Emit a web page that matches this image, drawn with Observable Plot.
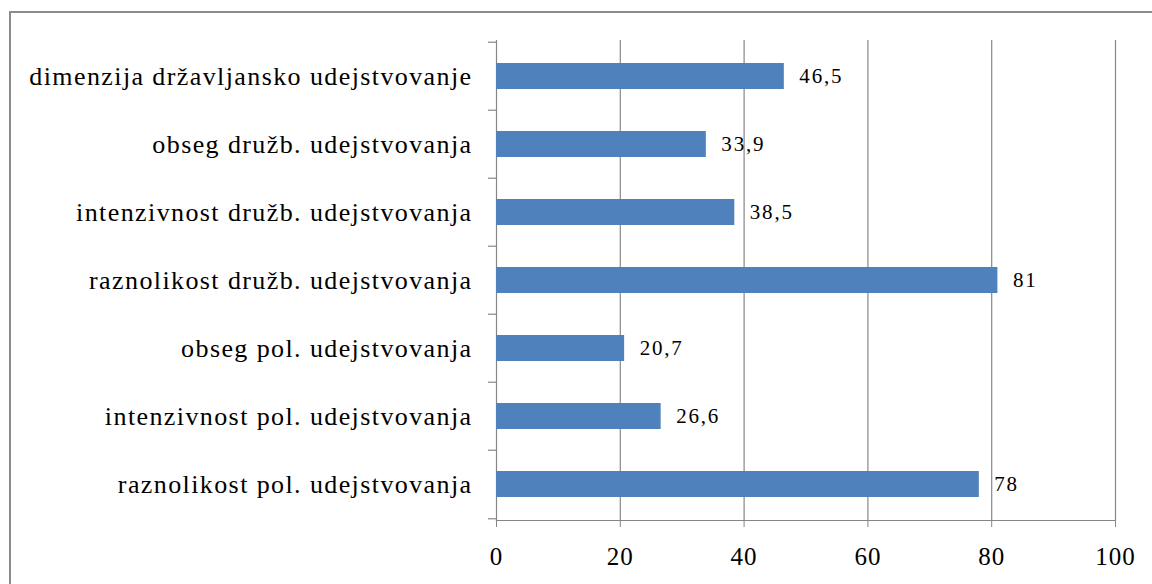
<!DOCTYPE html>
<html>
<head>
<meta charset="utf-8">
<script src="https://cdn.jsdelivr.net/npm/d3@7"></script>
<script src="https://cdn.jsdelivr.net/npm/@observablehq/plot@0.6"></script>
<style>
  html, body { margin: 0; padding: 0; background: #fff; overflow: hidden; }
  #wrap { position: relative; width: 1152px; height: 584px; }
  #border { position: absolute; left: 9px; top: 11px; width: 1300px; height: 800px; border: 2px solid #8c8c8c; box-sizing: border-box; }
  #chart { position: absolute; left: 0; top: 0; }
  .ylab text { letter-spacing: 1.4px; }
  .vlab text { letter-spacing: 1.8px; }
  .xlab text { letter-spacing: 1px; }
</style>
</head>
<body>
<div id="wrap">
  <div id="border"></div>
  <div id="chart"></div>
</div>
<script>
const categories = [
  "dimenzija državljansko udejstvovanje",
  "obseg družb. udejstvovanja",
  "intenzivnost družb. udejstvovanja",
  "raznolikost družb. udejstvovanja",
  "obseg pol. udejstvovanja",
  "intenzivnost pol. udejstvovanja",
  "raznolikost pol. udejstvovanja"
];
const values = [46.5, 33.9, 38.5, 81, 20.7, 26.6, 78];
const xTicks = [0, 20, 40, 60, 80, 100];

const data = categories.map((c, i) => ({cat: c, value: values[i]}));
const fmt = v => String(v).replace(".", ",");

const serif = "Liberation Serif, Times New Roman, serif";
const step = (584 - 40 - 64) / categories.length;
const tickLen = 8 / ((1152 - 496 - 37) / 100);

const chart = Plot.plot({
  width: 1152,
  height: 584,
  marginLeft: 496,
  marginRight: 37,
  marginTop: 40,
  marginBottom: 64,
  style: {background: "transparent", fontFamily: serif, color: "#000"},
  x: {domain: [0, 100], ticks: xTicks},
  y: {domain: categories, paddingInner: 0.62, paddingOuter: 0.31},
  marks: [
    Plot.gridX(xTicks.filter(d => d > 0), {stroke: "#868686", strokeOpacity: 1, strokeWidth: 1.2}),
    Plot.frame({anchor: "bottom", stroke: "#868686", strokeWidth: 1.2}),
    Plot.frame({anchor: "left", stroke: "#868686", strokeWidth: 1.2}),
    Plot.barX(data, {x: "value", y: "cat", fill: "#4F81BD"}),
    Plot.text(data, {x: "value", y: "cat", text: d => fmt(d.value), textAnchor: "start", dx: 15, fontSize: 21, fill: "#000", fontFamily: serif, className: "vlab"}),
    Plot.axisX({ticks: xTicks, tickSize: 7, tickPadding: 20, fontSize: 25, label: null, stroke: "#868686", fill: "#000", fontFamily: serif, className: "xlab"}),
    Plot.axisY({tickSize: 0, tickPadding: 24, fontSize: 26, label: null, fill: "#000", fontFamily: serif, className: "ylab"}),
    Plot.ruleY(categories, {y: d => d, dy: -step / 2, x1: -tickLen, x2: 0, stroke: "#868686", strokeWidth: 1.2}),
    Plot.ruleY(categories.slice(-1), {y: d => d, dy: step / 2, x1: -tickLen, x2: 0, stroke: "#868686", strokeWidth: 1.2})
  ]
});
document.getElementById("chart").appendChild(chart);
</script>
</body>
</html>
